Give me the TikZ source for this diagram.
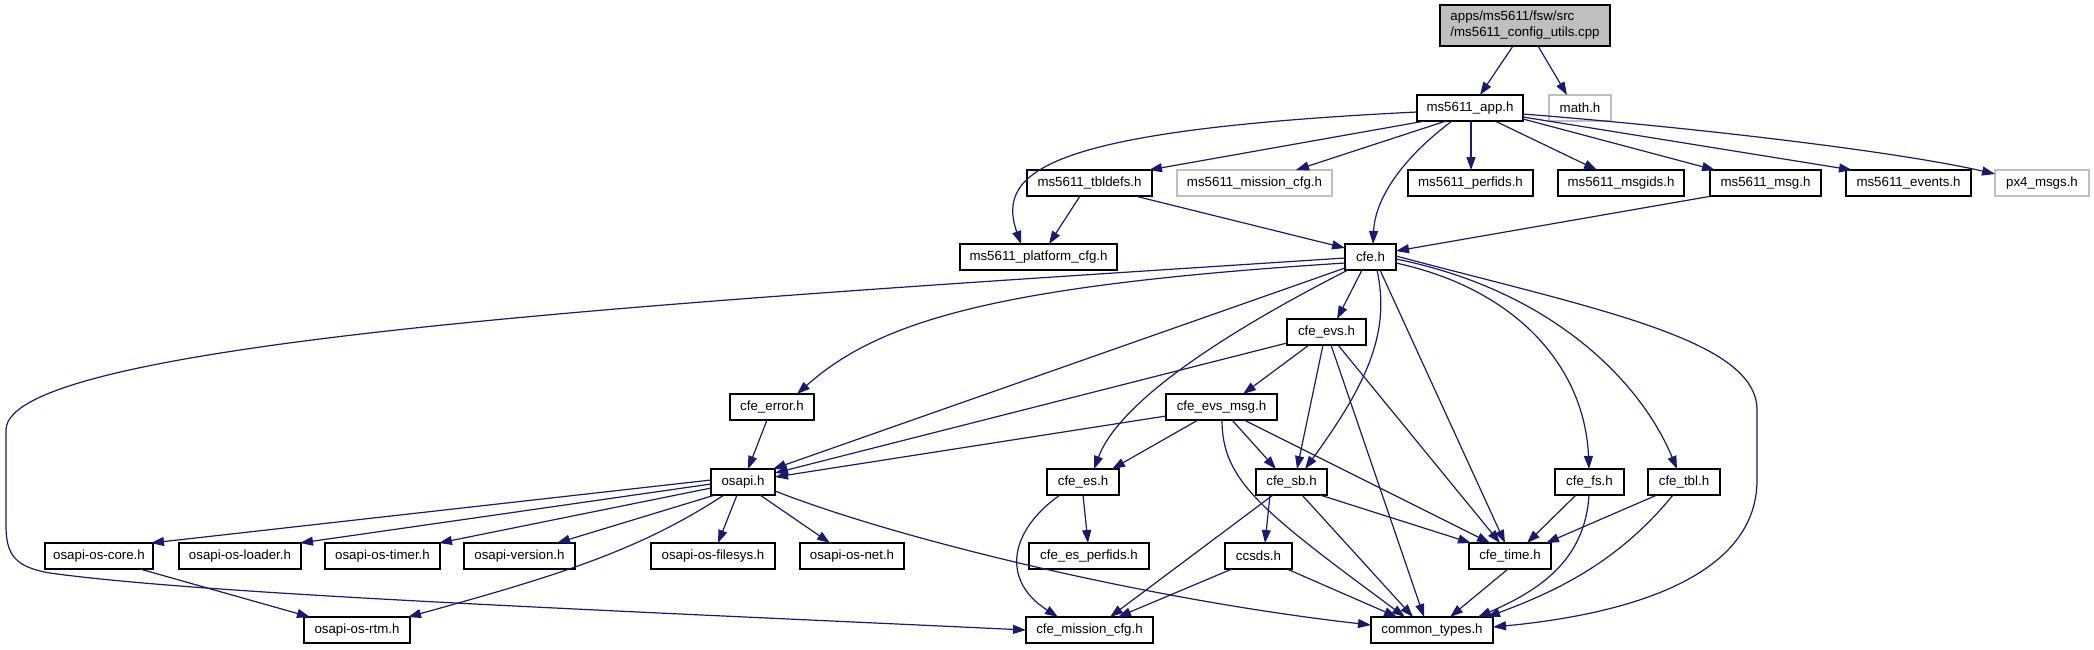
\documentclass[tikz,border=0pt]{standalone}
\usepackage{fontspec}
\setmainfont{Liberation Sans}
\usetikzlibrary{arrows.meta,calc}
\definecolor{edgecol}{HTML}{191970}
\definecolor{greyc}{HTML}{BFBFBF}
\begin{document}
\begin{tikzpicture}[x=1pt,y=-1pt,
  box/.style={draw=black, line width=1.2pt, anchor=north west, inner sep=0pt, outer sep=0pt, minimum height=26pt, font=\fontsize{13.3}{16}\selectfont},
  gbox/.style={box, draw=greyc},
  dep/.style={draw=edgecol, line width=1.2pt, -{Triangle[length=13pt,width=9pt]}}]
\useasboundingbox (0,0) rectangle (2094,649);
% nodes
\node[box, minimum width=170pt, minimum height=41pt, fill=greyc, align=left] (top) at (1440,5) {apps/ms5611/fsw/src\\/ms5611\_config\_utils.cpp};
\node[box, minimum width=106pt] (app) at (1417,95) {ms5611\_app.h};
\node[gbox, minimum width=62pt] (math) at (1549,95) {math.h};
\node[box, minimum width=125pt] (tbldefs) at (1027,170) {ms5611\_tbldefs.h};
\node[gbox, minimum width=155pt] (msmiss) at (1177,170) {ms5611\_mission\_cfg.h};
\node[box, minimum width=125pt] (perfids) at (1408,170) {ms5611\_perfids.h};
\node[box, minimum width=126pt] (msgids) at (1558,170) {ms5611\_msgids.h};
\node[box, minimum width=111pt] (msg) at (1710,170) {ms5611\_msg.h};
\node[box, minimum width=125pt] (events) at (1846,170) {ms5611\_events.h};
\node[gbox, minimum width=94pt] (px4) at (1995,170) {px4\_msgs.h};
\node[box, minimum width=157pt] (platform) at (960,244) {ms5611\_platform\_cfg.h};
\node[box, minimum width=51pt] (cfe) at (1345,244) {cfe.h};
\node[box, minimum width=79pt] (evs) at (1287,319) {cfe\_evs.h};
\node[box, minimum width=84pt] (error) at (730,394) {cfe\_error.h};
\node[box, minimum width=111pt] (evsmsg) at (1166,394) {cfe\_evs\_msg.h};
\node[box, minimum width=64pt] (osapi) at (711,469) {osapi.h};
\node[box, minimum width=72pt] (es) at (1047,469) {cfe\_es.h};
\node[box, minimum width=71pt] (sb) at (1256,469) {cfe\_sb.h};
\node[box, minimum width=69pt] (fs) at (1555,469) {cfe\_fs.h};
\node[box, minimum width=72pt] (tbl) at (1648,469) {cfe\_tbl.h};
\node[box, minimum width=108pt] (core) at (45,543) {osapi-os-core.h};
\node[box, minimum width=122pt] (loader) at (179,543) {osapi-os-loader.h};
\node[box, minimum width=115pt] (timer) at (325,543) {osapi-os-timer.h};
\node[box, minimum width=111pt] (version) at (464,543) {osapi-version.h};
\node[box, minimum width=124pt] (filesys) at (651,543) {osapi-os-filesys.h};
\node[box, minimum width=104pt] (net) at (800,543) {osapi-os-net.h};
\node[box, minimum width=120pt] (esperf) at (1029,543) {cfe\_es\_perfids.h};
\node[box, minimum width=67pt] (ccsds) at (1225,543) {ccsds.h};
\node[box, minimum width=82pt] (time) at (1469,543) {cfe\_time.h};
\node[box, minimum width=106pt] (rtm) at (304,617) {osapi-os-rtm.h};
\node[box, minimum width=127pt] (mission) at (1026,617) {cfe\_mission\_cfg.h};
\node[box, minimum width=122pt] (common) at (1371,617) {common\_types.h};
% edges
\draw[dep] ($(top.north west)+(73,41)$) -- ($(app.north west)+(63,0)$);
\draw[dep] ($(top.north west)+(98,41)$) -- ($(math.north west)+(18,0)$);
\draw[dep] ($(app.north west)+(0,17)$) .. controls (1050,130) and (995,170) .. ($(platform.north west)+(61,0)$);
\draw[dep] ($(app.north west)+(8,26)$) -- ($(tbldefs.north west)+(122,0)$);
\draw[dep] ($(app.north west)+(29,26)$) -- ($(msmiss.north west)+(119,0)$);
\draw[dep] ($(app.north west)+(35,26)$) .. controls (1400,160) and (1375,200) .. ($(cfe.north west)+(28,0)$);
\draw[dep] ($(app.north west)+(54,26)$) -- ($(perfids.north west)+(63,0)$);
\draw[dep] ($(app.north west)+(78,26)$) -- ($(msgids.north west)+(39,0)$);
\draw[dep] ($(app.north west)+(106,24)$) -- ($(msg.north west)+(5,0)$);
\draw[dep] ($(app.north west)+(106,22)$) -- ($(events.north west)+(6,0)$);
\draw[dep] ($(app.north west)+(106,19)$) .. controls (1700,128) and (1900,152) .. ($(px4.north west)+(0,4)$);
\draw[dep] ($(tbldefs.north west)+(53,26)$) -- ($(platform.north west)+(89,0)$);
\draw[dep] ($(tbldefs.north west)+(108,26)$) -- ($(cfe.north west)+(0,4)$);
\draw[dep] ($(msg.north west)+(2,26)$) -- ($(cfe.north west)+(51,7)$);
% cfe.h
\draw[dep] ($(cfe.north west)+(0,14)$) .. controls (700,300) and (6,340) .. (6,430) -- (6,525) .. controls (6,555) and (15,567) .. (50,573) .. controls (200,594) and (600,610) .. ($(mission.north west)+(0,13)$);
\draw[dep] ($(cfe.north west)+(0,19)$) .. controls (1000,285) and (880,320) .. ($(error.north west)+(67,0)$);
\draw[dep] ($(cfe.north west)+(0,24)$) -- ($(osapi.north west)+(62,0)$);
\draw[dep] ($(cfe.north west)+(17,26)$) -- ($(evs.north west)+(50,0)$);
\draw[dep] ($(cfe.north west)+(3,26)$) .. controls (1230,330) and (1120,400) .. ($(es.north west)+(47,0)$);
\draw[dep] ($(cfe.north west)+(32,26)$) .. controls (1390,330) and (1370,380) .. ($(sb.north west)+(49,0)$);
\draw[dep] ($(cfe.north west)+(35,26)$) -- ($(time.north west)+(36,0)$);
\draw[dep] ($(cfe.north west)+(51,12)$) .. controls (1600,310) and (1757,340) .. (1757,410) -- (1757,480) .. controls (1757,580) and (1620,615) .. ($(common.north west)+(122,10)$);
\draw[dep] ($(cfe.north west)+(51,19)$) .. controls (1520,290) and (1585,370) .. ($(fs.north west)+(34,0)$);
\draw[dep] ($(cfe.north west)+(51,15)$) .. controls (1550,290) and (1640,380) .. ($(tbl.north west)+(29,0)$);
% cfe_evs.h
\draw[dep] ($(evs.north west)+(0,24)$) -- ($(osapi.north west)+(64,4)$);
\draw[dep] ($(evs.north west)+(22,26)$) -- ($(evsmsg.north west)+(77,0)$);
\draw[dep] ($(evs.north west)+(36,26)$) -- ($(sb.north west)+(41,0)$);
\draw[dep] ($(evs.north west)+(51,26)$) -- ($(time.north west)+(31,0)$);
\draw[dep] ($(evs.north west)+(44,26)$) -- ($(common.north west)+(53,0)$);
% cfe_evs_msg.h
\draw[dep] ($(evsmsg.north west)+(0,22)$) -- ($(osapi.north west)+(64,8)$);
\draw[dep] ($(evsmsg.north west)+(32,26)$) -- ($(es.north west)+(65,0)$);
\draw[dep] ($(evsmsg.north west)+(66,26)$) -- ($(sb.north west)+(20,0)$);
\draw[dep] ($(evsmsg.north west)+(78,26)$) -- ($(time.north west)+(21,0)$);
\draw[dep] ($(evsmsg.north west)+(56,26)$) .. controls (1222,480) and (1260,510) .. ($(common.north west)+(34,0)$);
% others
\draw[dep] ($(error.north west)+(37,26)$) -- ($(osapi.north west)+(37,0)$);
\draw[dep] ($(es.north west)+(13,26)$) .. controls (1010,530) and (1000,580) .. ($(mission.north west)+(32,0)$);
\draw[dep] ($(es.north west)+(36,26)$) -- ($(esperf.north west)+(59,0)$);
\draw[dep] ($(sb.north west)+(14,26)$) -- ($(ccsds.north west)+(40,0)$);
\draw[dep] ($(sb.north west)+(17,26)$) -- ($(mission.north west)+(84,0)$);
\draw[dep] ($(sb.north west)+(46,26)$) -- ($(common.north west)+(42,0)$);
\draw[dep] ($(sb.north west)+(64,26)$) -- ($(time.north west)+(2,0)$);
\draw[dep] ($(fs.north west)+(21,26)$) -- ($(time.north west)+(58,0)$);
\draw[dep] ($(fs.north west)+(34,26)$) .. controls (1585,560) and (1540,590) .. ($(common.north west)+(107,0)$);
\draw[dep] ($(tbl.north west)+(9,26)$) -- ($(time.north west)+(77,0)$);
\draw[dep] ($(tbl.north west)+(25,26)$) .. controls (1620,560) and (1560,590) .. ($(common.north west)+(116,0)$);
\draw[dep] ($(time.north west)+(39,26)$) -- ($(common.north west)+(79,0)$);
\draw[dep] ($(ccsds.north west)+(7,26)$) -- ($(mission.north west)+(92,0)$);
\draw[dep] ($(ccsds.north west)+(62,26)$) -- ($(common.north west)+(26,0)$);
% osapi.h
\draw[dep] ($(osapi.north west)+(64,22)$) .. controls (900,540) and (1150,600) .. ($(common.north west)+(0,8)$);
\draw[dep] ($(osapi.north west)+(0,11)$) -- ($(core.north west)+(106,0)$);
\draw[dep] ($(osapi.north west)+(0,15)$) -- ($(loader.north west)+(121,0)$);
\draw[dep] ($(osapi.north west)+(0,19)$) -- ($(timer.north west)+(114,0)$);
\draw[dep] ($(osapi.north west)+(4,26)$) -- ($(version.north west)+(93,0)$);
\draw[dep] ($(osapi.north west)+(13,26)$) .. controls (640,550) and (560,575) .. ($(rtm.north west)+(104,0)$);
\draw[dep] ($(osapi.north west)+(26,26)$) -- ($(filesys.north west)+(67,0)$);
\draw[dep] ($(osapi.north west)+(49,26)$) -- ($(net.north west)+(30,0)$);
\draw[dep] ($(core.north west)+(95,26)$) -- ($(rtm.north west)+(6,0)$);
\end{tikzpicture}
\end{document}
